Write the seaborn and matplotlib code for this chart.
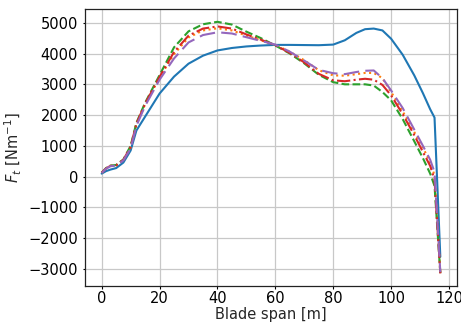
import numpy as np
import pandas as pd
import matplotlib
matplotlib.use("Agg")
import matplotlib.pyplot as plt
import seaborn as sns

span = [0, 1.5, 3, 5, 7.5, 10, 12, 15, 20, 25, 30, 35, 40, 45, 50, 55, 60, 65, 70,
        75, 80, 84, 88, 91, 94, 97, 100, 104, 108, 111, 113.5, 115, 117]

ft_s1 = [100, 180, 230, 280, 460, 850, 1500, 1950, 2700, 3250, 3670, 3930, 4100, 4180,
         4230, 4260, 4280, 4280, 4275, 4270, 4290, 4430, 4670, 4790, 4810, 4750, 4480,
         3960, 3290, 2710, 2190, 1920, -2600]
ft_s2 = [130, 270, 350, 370, 550, 950, 1700, 2350, 3220, 3980, 4520, 4750, 4820, 4750,
         4580, 4430, 4280, 4060, 3780, 3460, 3290, 3280, 3330, 3370, 3370, 3200, 2750,
         2120, 1450, 950, 450, 50, -3120]
ft_s3 = [130, 280, 360, 380, 560, 1000, 1750, 2400, 3300, 4200, 4720, 4950, 5030, 4940,
         4710, 4500, 4260, 4000, 3680, 3310, 3070, 3000, 3000, 3000, 2960, 2750, 2480,
         1870, 1150, 600, 100, -300, -3130]
ft_s4 = [130, 270, 350, 370, 550, 970, 1720, 2370, 3240, 4050, 4580, 4810, 4880, 4810,
         4620, 4450, 4270, 4020, 3710, 3340, 3130, 3100, 3150, 3180, 3150, 2980, 2640,
         2030, 1350, 800, 350, -100, -3140]
ft_s5 = [120, 260, 340, 360, 530, 920, 1650, 2300, 3150, 3840, 4360, 4600, 4690, 4650,
         4530, 4410, 4290, 4060, 3770, 3470, 3360, 3330, 3400, 3440, 3450, 3200, 2800,
         2230, 1530, 1000, 550, 150, -3100]

series_names = ["s1", "s2", "s3", "s4", "s5"]
series_vals = [ft_s1, ft_s2, ft_s3, ft_s4, ft_s5]

df = pd.concat([pd.DataFrame({"span": span, "ft": v, "case": n})
                for n, v in zip(series_names, series_vals)], ignore_index=True)

sns.set_style("ticks")
plt.rcParams["font.family"] = ["DejaVu Sans"]
plt.rcParams["mathtext.fontset"] = "dejavusans"

fig = plt.figure(figsize=(4.61, 3.27), dpi=100)
ax = fig.add_axes([0.1837, 0.1254, 0.8076, 0.847])

palette = {"s1": "#1f77b4", "s2": "#ff7f0e", "s3": "#2ca02c", "s4": "#d62728", "s5": "#9467bd"}
dashes = {"s1": "", "s2": (1, 1.65), "s3": (3.7, 1.6), "s4": (6.4, 1.6, 1, 1.6), "s5": (7.5, 3)}

sns.lineplot(data=df, x="span", y="ft", hue="case", style="case", palette=palette,
             dashes=dashes, estimator=None, sort=False, linewidth=1.5, ax=ax, legend=False)

fs = 10.5
ax.grid(True, color="#c8c8c8", linewidth=0.9)
ax.set_axisbelow(True)
for sp in ax.spines.values():
    sp.set_visible(True)
    sp.set_color("#222222")
    sp.set_linewidth(0.9)
ax.tick_params(direction="out", length=1.8, width=0.8, labelsize=fs, colors="black")
ax.tick_params(axis="x", pad=2.1)
ax.tick_params(axis="y", pad=3.0)
ax.set_xticks([0, 20, 40, 60, 80, 100, 120])
ax.set_yticks([-3000, -2000, -1000, 0, 1000, 2000, 3000, 4000, 5000])
ax.set_xlim(-5.87, 122.76)
ax.set_ylim(-3549, 5445)
ax.set_xlabel("Blade span [m]", fontsize=fs, labelpad=0.5)
ax.set_ylabel(r"$F_t$ [Nm$^{-1}$]", fontsize=fs, labelpad=3)

fig.savefig("out.png", dpi=100, facecolor="white")
